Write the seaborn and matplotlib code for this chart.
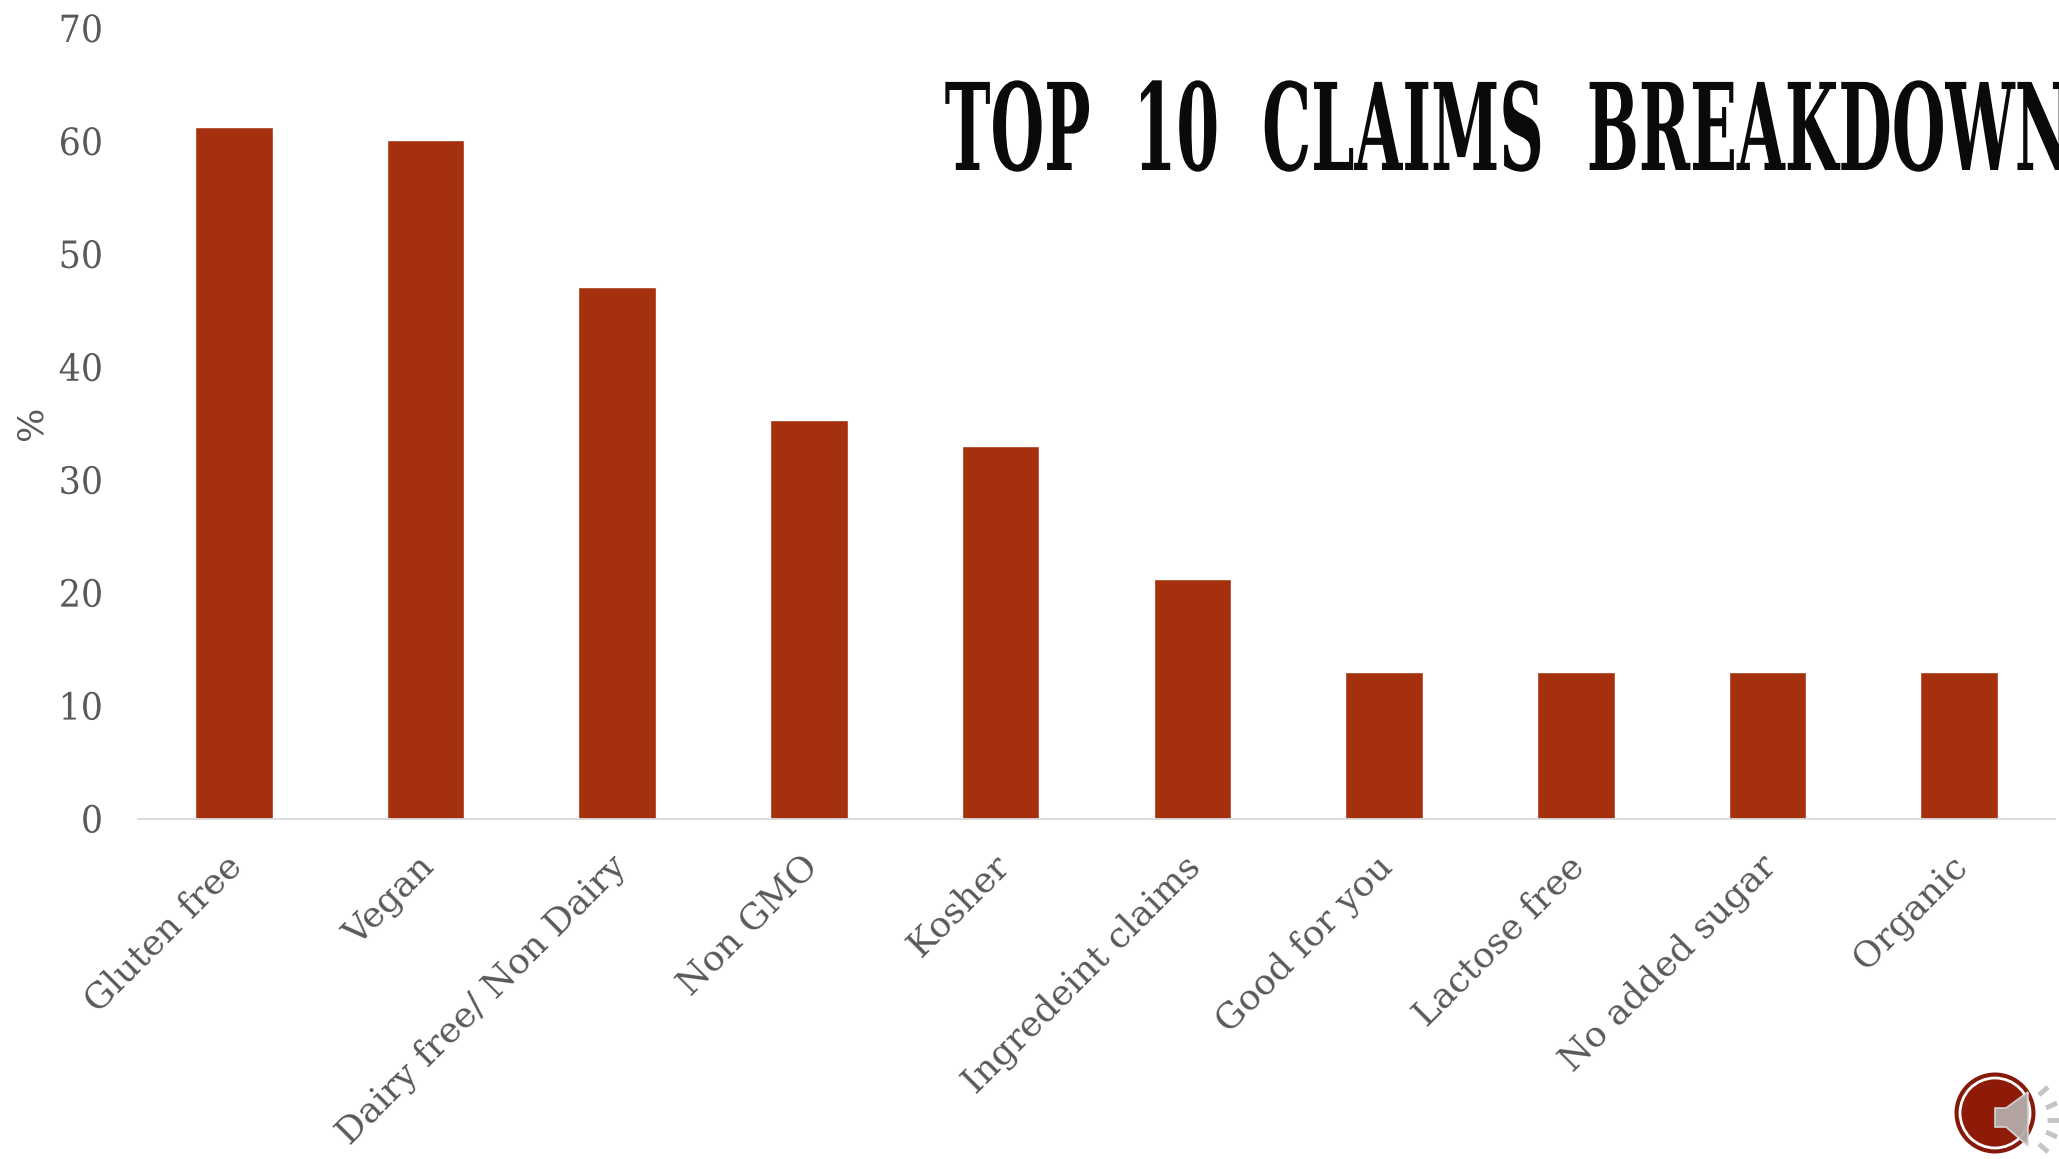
import matplotlib
matplotlib.use("Agg")
import matplotlib.pyplot as plt
import matplotlib.patheffects as pe
from matplotlib.patches import Circle, Polygon
from matplotlib.transforms import Affine2D
import pandas as pd
import seaborn as sns

# Chart values
claims = ["Gluten free", "Vegan", "Dairy free/ Non Dairy", "Non GMO", "Kosher",
          "Ingredeint claims", "Good for you", "Lactose free", "No added sugar", "Organic"]
shares = [61.2, 60.1, 47.1, 35.3, 33.0, 21.2, 13.0, 13.0, 13.0, 13.0]
y_ticks = [0, 10, 20, 30, 40, 50, 60, 70]

BAR = "#A4300E"
INK = "#595959"
W, H = 2059, 1159


class Condense(pe.AbstractPathEffect):
    """Narrow glyphs along the text direction, keeping one end of the string fixed."""

    def __init__(self, factor, keep="left"):
        super().__init__()
        self.factor = factor
        self.keep = keep

    def draw_path(self, renderer, gc, tpath, affine, rgbFace=None):
        ext = tpath.get_extents()
        x0 = ext.x1 if self.keep == "right" else ext.x0
        local = Affine2D().translate(-x0, 0).scale(self.factor, 1).translate(x0, 0)
        renderer.draw_path(gc, tpath, local + affine, rgbFace)


sns.set_theme(style="white")
plt.rcParams["font.family"] = ["DejaVu Serif"]

fig = plt.figure(figsize=(W / 100, H / 100), dpi=100)
ax = fig.add_axes([138.0 / W, 1 - 818.5 / H, 1917 / W, 790.5 / H])

data = pd.DataFrame({"claim": claims, "share": shares})
sns.barplot(data=data, x="claim", y="share", color=BAR, saturation=1, width=0.405, ax=ax)

ax.set_xlim(-0.5, 9.5)
ax.set_ylim(0, 70)
ax.set_yticks(y_ticks)
ax.set_xlabel("")
ax.set_ylabel("")
sns.despine(ax=ax, left=True)
ax.spines["bottom"].set_color("#D9D9D9")
ax.spines["bottom"].set_linewidth(1.3)
ax.tick_params(axis="both", length=0)

ax.tick_params(axis="y", pad=25)
for lab in ax.get_yticklabels():
    lab.set(fontsize=27, color=INK, path_effects=[Condense(0.93, "right")])

ax.set_xticks(range(len(claims)))
ax.set_xticklabels(claims, rotation=45, ha="right", rotation_mode="anchor",
                   fontsize=25.8, color=INK)
ax.tick_params(axis="x", pad=22)
for lab in ax.get_xticklabels():
    lab.set_transform(lab.get_transform() + Affine2D().translate(-9, 0))

fig.text(31 / W, 1 - 423 / H, "%", rotation=90, ha="center", va="center",
         fontsize=26, color=INK)

# Slide heading, running off the right edge
fig.text(944 / W, 1 - 170 / H, "TOP  10  CLAIMS  BREAKDOWN", ha="left", va="baseline",
         fontsize=87, fontweight="bold", color="#0A0A0A",
         path_effects=[Condense(0.51, "left")])

overlay = fig.add_axes([0, 0, 1, 1], facecolor="none")
overlay.set_xlim(0, W)
overlay.set_ylim(H, 0)
overlay.axis("off")

# Worn-ink flecks over the heading, spread on an even lattice
fleck_count = 1400
fleck_x = [944 + 1115 * ((i * 0.6180339) % 1) for i in range(fleck_count)]
fleck_y = [84 + 84 * ((i * 0.7548777) % 1) for i in range(fleck_count)]
overlay.scatter(fleck_x, fleck_y, s=2.2, c="white", alpha=0.55, linewidths=0)

# Round audio badge in the lower right corner
overlay.add_patch(Circle((1995, 1113), 40.5, fc="#861A0A", ec="none"))
overlay.add_patch(Circle((1995, 1113), 35, fc="#8E1B08", ec="white", lw=2))
overlay.add_patch(Polygon([(1995, 1108), (2006, 1108), (2028, 1092), (2028, 1146), (2006, 1127), (1995, 1127)],
                          closed=True, fc="#B5ABA9", ec="#D8D8D8", lw=1.2, alpha=0.95))
for (x0, y0, x1, y1) in [(2039, 1095, 2048, 1087), (2046, 1108, 2057, 1103),
                         (2047, 1120, 2059, 1120), (2046, 1132, 2057, 1137),
                         (2039, 1144, 2048, 1152)]:
    overlay.plot([x0, x1], [y0, y1], color="#C4C4C4", lw=3.5, solid_capstyle="butt")

fig.savefig("out.png", dpi=100)
